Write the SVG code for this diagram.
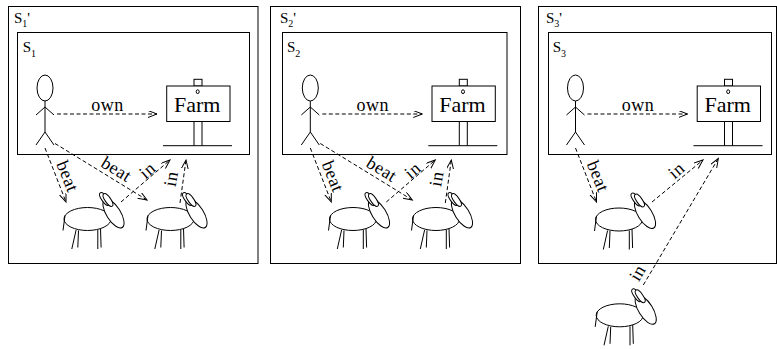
<svg xmlns="http://www.w3.org/2000/svg" xmlns:xlink="http://www.w3.org/1999/xlink" width="777" height="349" viewBox="0 0 777 349">
<style>
  .ln { fill: none; stroke: #000; stroke-width: 1; }
  .wf { fill: #fff; stroke: #000; stroke-width: 1; }
  .dash { fill: none; stroke: #000; stroke-width: 1; stroke-dasharray: 4 2.5; marker-end: url(#arr); }
  text { font-family: 'Liberation Serif', 'DejaVu Serif', serif; fill: #000; }
  .lab { font-size: 18px; letter-spacing: 0.5px; text-anchor: middle; }
  .s { font-size: 15px; }
  .sub { font-size: 10px; }
</style>
<defs>
  <marker id="arr" markerUnits="userSpaceOnUse" markerWidth="12" markerHeight="10" refX="9" refY="3.5" orient="auto">
    <path d="M0,0 L9,3.5 L0,7" fill="none" stroke="#000" stroke-width="1" stroke-dasharray="none"/>
  </marker>
  <g id="person">
    <ellipse class="ln" cx="0" cy="0" rx="8" ry="13"/>
    <line class="ln" x1="0" y1="13" x2="0" y2="44"/>
    <polyline class="ln" points="-9,27 0,19 9,27"/>
    <polyline class="ln" points="-9,57 0,44 9,57"/>
  </g>
  <g id="farm">
    <rect class="wf" x="27.3" y="-6.7" width="8" height="6.7"/>
    <rect class="wf" x="0" y="0" width="63.3" height="35.5"/>
    <ellipse class="ln" cx="31" cy="5.7" rx="1.5" ry="1.9"/>
    <line class="ln" x1="27.3" y1="35.5" x2="27.3" y2="59.7"/>
    <line class="ln" x1="35.3" y1="35.5" x2="35.3" y2="59.7"/>
    <line class="ln" x1="-3.7" y1="59.7" x2="65.3" y2="59.7"/>
    <text x="30.5" y="26" font-family="Liberation Serif, serif" font-size="22" text-anchor="middle">Farm</text>
  </g>
  <g id="donkey">
    <ellipse class="ln" cx="0" cy="0" rx="23.5" ry="11.5"/>
    <line class="ln" x1="-22.5" y1="-3.5" x2="-24.5" y2="11.5"/>
    <line class="ln" x1="-11.4" y1="11" x2="-15.7" y2="30"/>
    <line class="ln" x1="-9" y1="11.5" x2="-9.7" y2="28.5"/>
    <line class="ln" x1="10.3" y1="11" x2="10.3" y2="30"/>
    <line class="ln" x1="13" y1="9.5" x2="13.6" y2="28.5"/>
    <ellipse class="wf" cx="26" cy="-5.5" rx="7" ry="16.5" transform="rotate(-32 26 -5.5)"/>
    <ellipse class="wf" cx="17" cy="-20" rx="2.8" ry="7.5" transform="rotate(-35 17 -20)"/>
    <ellipse class="wf" cx="20.5" cy="-19" rx="2.8" ry="7.5" transform="rotate(-35 20.5 -19)"/>
  </g>
</defs>

<g id="panel1">
  <rect id="S1p" class="ln" x="8.5" y="6.5" width="249.5" height="257"/>
  <text class="s" x="14" y="23" font-family="Liberation Serif, serif">S<tspan class="sub" dy="4">1</tspan><tspan dy="-4">'</tspan></text>
  <rect id="S1" class="ln" x="17.5" y="32.5" width="232" height="122"/>
  <text class="s" x="22.7" y="51.7" font-family="Liberation Serif, serif">S<tspan class="sub" dy="5">1</tspan></text>
</g>
<g id="panel2">
  <rect id="S2p" class="ln" x="270.5" y="6.5" width="250" height="257"/>
  <text class="s" x="280" y="23" font-family="Liberation Serif, serif">S<tspan class="sub" dy="4">2</tspan><tspan dy="-4">'</tspan></text>
  <rect id="S2" class="ln" x="282.5" y="32.5" width="224.5" height="122"/>
  <text class="s" x="287" y="51.7" font-family="Liberation Serif, serif">S<tspan class="sub" dy="5">2</tspan></text>
</g>
<g id="panel3">
  <rect id="S3p" class="ln" x="538.5" y="6.5" width="238" height="257"/>
  <text class="s" x="546" y="23" font-family="Liberation Serif, serif">S<tspan class="sub" dy="4">3</tspan><tspan dy="-4">'</tspan></text>
  <rect id="S3" class="ln" x="548.5" y="32.5" width="223" height="122"/>
  <text class="s" x="552.7" y="51.7" font-family="Liberation Serif, serif">S<tspan class="sub" dy="5">3</tspan></text>
</g>

<g id="man1"><use xlink:href="#person" x="45" y="88"/></g>
<g id="man2"><use xlink:href="#person" x="310.3" y="88"/></g>
<g id="man3"><use xlink:href="#person" x="575.5" y="88"/></g>

<g id="farm1"><use xlink:href="#farm" x="166.7" y="86"/></g>
<g id="farm2"><use xlink:href="#farm" x="432" y="86"/></g>
<g id="farm3"><use xlink:href="#farm" x="697.2" y="86"/></g>

<g id="donkey1a"><use xlink:href="#donkey" x="87.5" y="219"/></g>
<g id="donkey1b"><use xlink:href="#donkey" x="170.5" y="219"/></g>
<g id="donkey2a"><use xlink:href="#donkey" x="353" y="219"/></g>
<g id="donkey2b"><use xlink:href="#donkey" x="436" y="219"/></g>
<g id="donkey3a"><use xlink:href="#donkey" x="619" y="219.5"/></g>
<g id="donkey3b"><use xlink:href="#donkey" x="619.7" y="315.3"/></g>

<g id="connectors" font-family="Liberation Serif, serif">
  <!-- panel 1 -->
  <line class="dash" x1="57" y1="114" x2="157" y2="114"/>
  <text class="lab" x="107.5" y="110.5">own</text>
  <line class="dash" x1="45" y1="148" x2="66" y2="202"/>
  <text class="lab" transform="translate(66.7 176.7) rotate(68)" y="5">beat</text>
  <line class="dash" x1="55" y1="143.5" x2="147" y2="200"/>
  <text class="lab" transform="translate(116 170) rotate(31.6)" y="5">beat</text>
  <line class="dash" x1="121" y1="202" x2="170" y2="160"/>
  <text class="lab" transform="translate(148 171) rotate(-40.6)" y="5">in</text>
  <line class="dash" x1="180" y1="203" x2="186" y2="160"/>
  <text class="lab" transform="translate(172 179) rotate(-80)" y="5">in</text>

  <!-- panel 2 -->
  <line class="dash" x1="322.3" y1="114" x2="422.3" y2="114"/>
  <text class="lab" x="372.8" y="110.5">own</text>
  <line class="dash" x1="310.3" y1="148" x2="331.3" y2="202"/>
  <text class="lab" transform="translate(332 176.7) rotate(68)" y="5">beat</text>
  <line class="dash" x1="320.3" y1="143.5" x2="412.3" y2="200"/>
  <text class="lab" transform="translate(381.3 170) rotate(31.6)" y="5">beat</text>
  <line class="dash" x1="386.3" y1="202" x2="435.3" y2="160"/>
  <text class="lab" transform="translate(413.3 171) rotate(-40.6)" y="5">in</text>
  <line class="dash" x1="445.3" y1="203" x2="451.3" y2="160"/>
  <text class="lab" transform="translate(437.3 179) rotate(-80)" y="5">in</text>

  <!-- panel 3 -->
  <line class="dash" x1="587.5" y1="114" x2="687.5" y2="114"/>
  <text class="lab" x="638" y="110.5">own</text>
  <line class="dash" x1="575.5" y1="148" x2="596.5" y2="202"/>
  <text class="lab" transform="translate(597.2 176.7) rotate(68)" y="5">beat</text>
  <line class="dash" x1="652" y1="202" x2="703" y2="160"/>
  <text class="lab" transform="translate(677 171) rotate(-40.6)" y="5">in</text>
  <line class="dash" x1="643.3" y1="285" x2="718.3" y2="158.5"/>
  <text class="lab" transform="translate(638.3 273.3) rotate(-59.4)" y="5">in</text>
</g>
</svg>
